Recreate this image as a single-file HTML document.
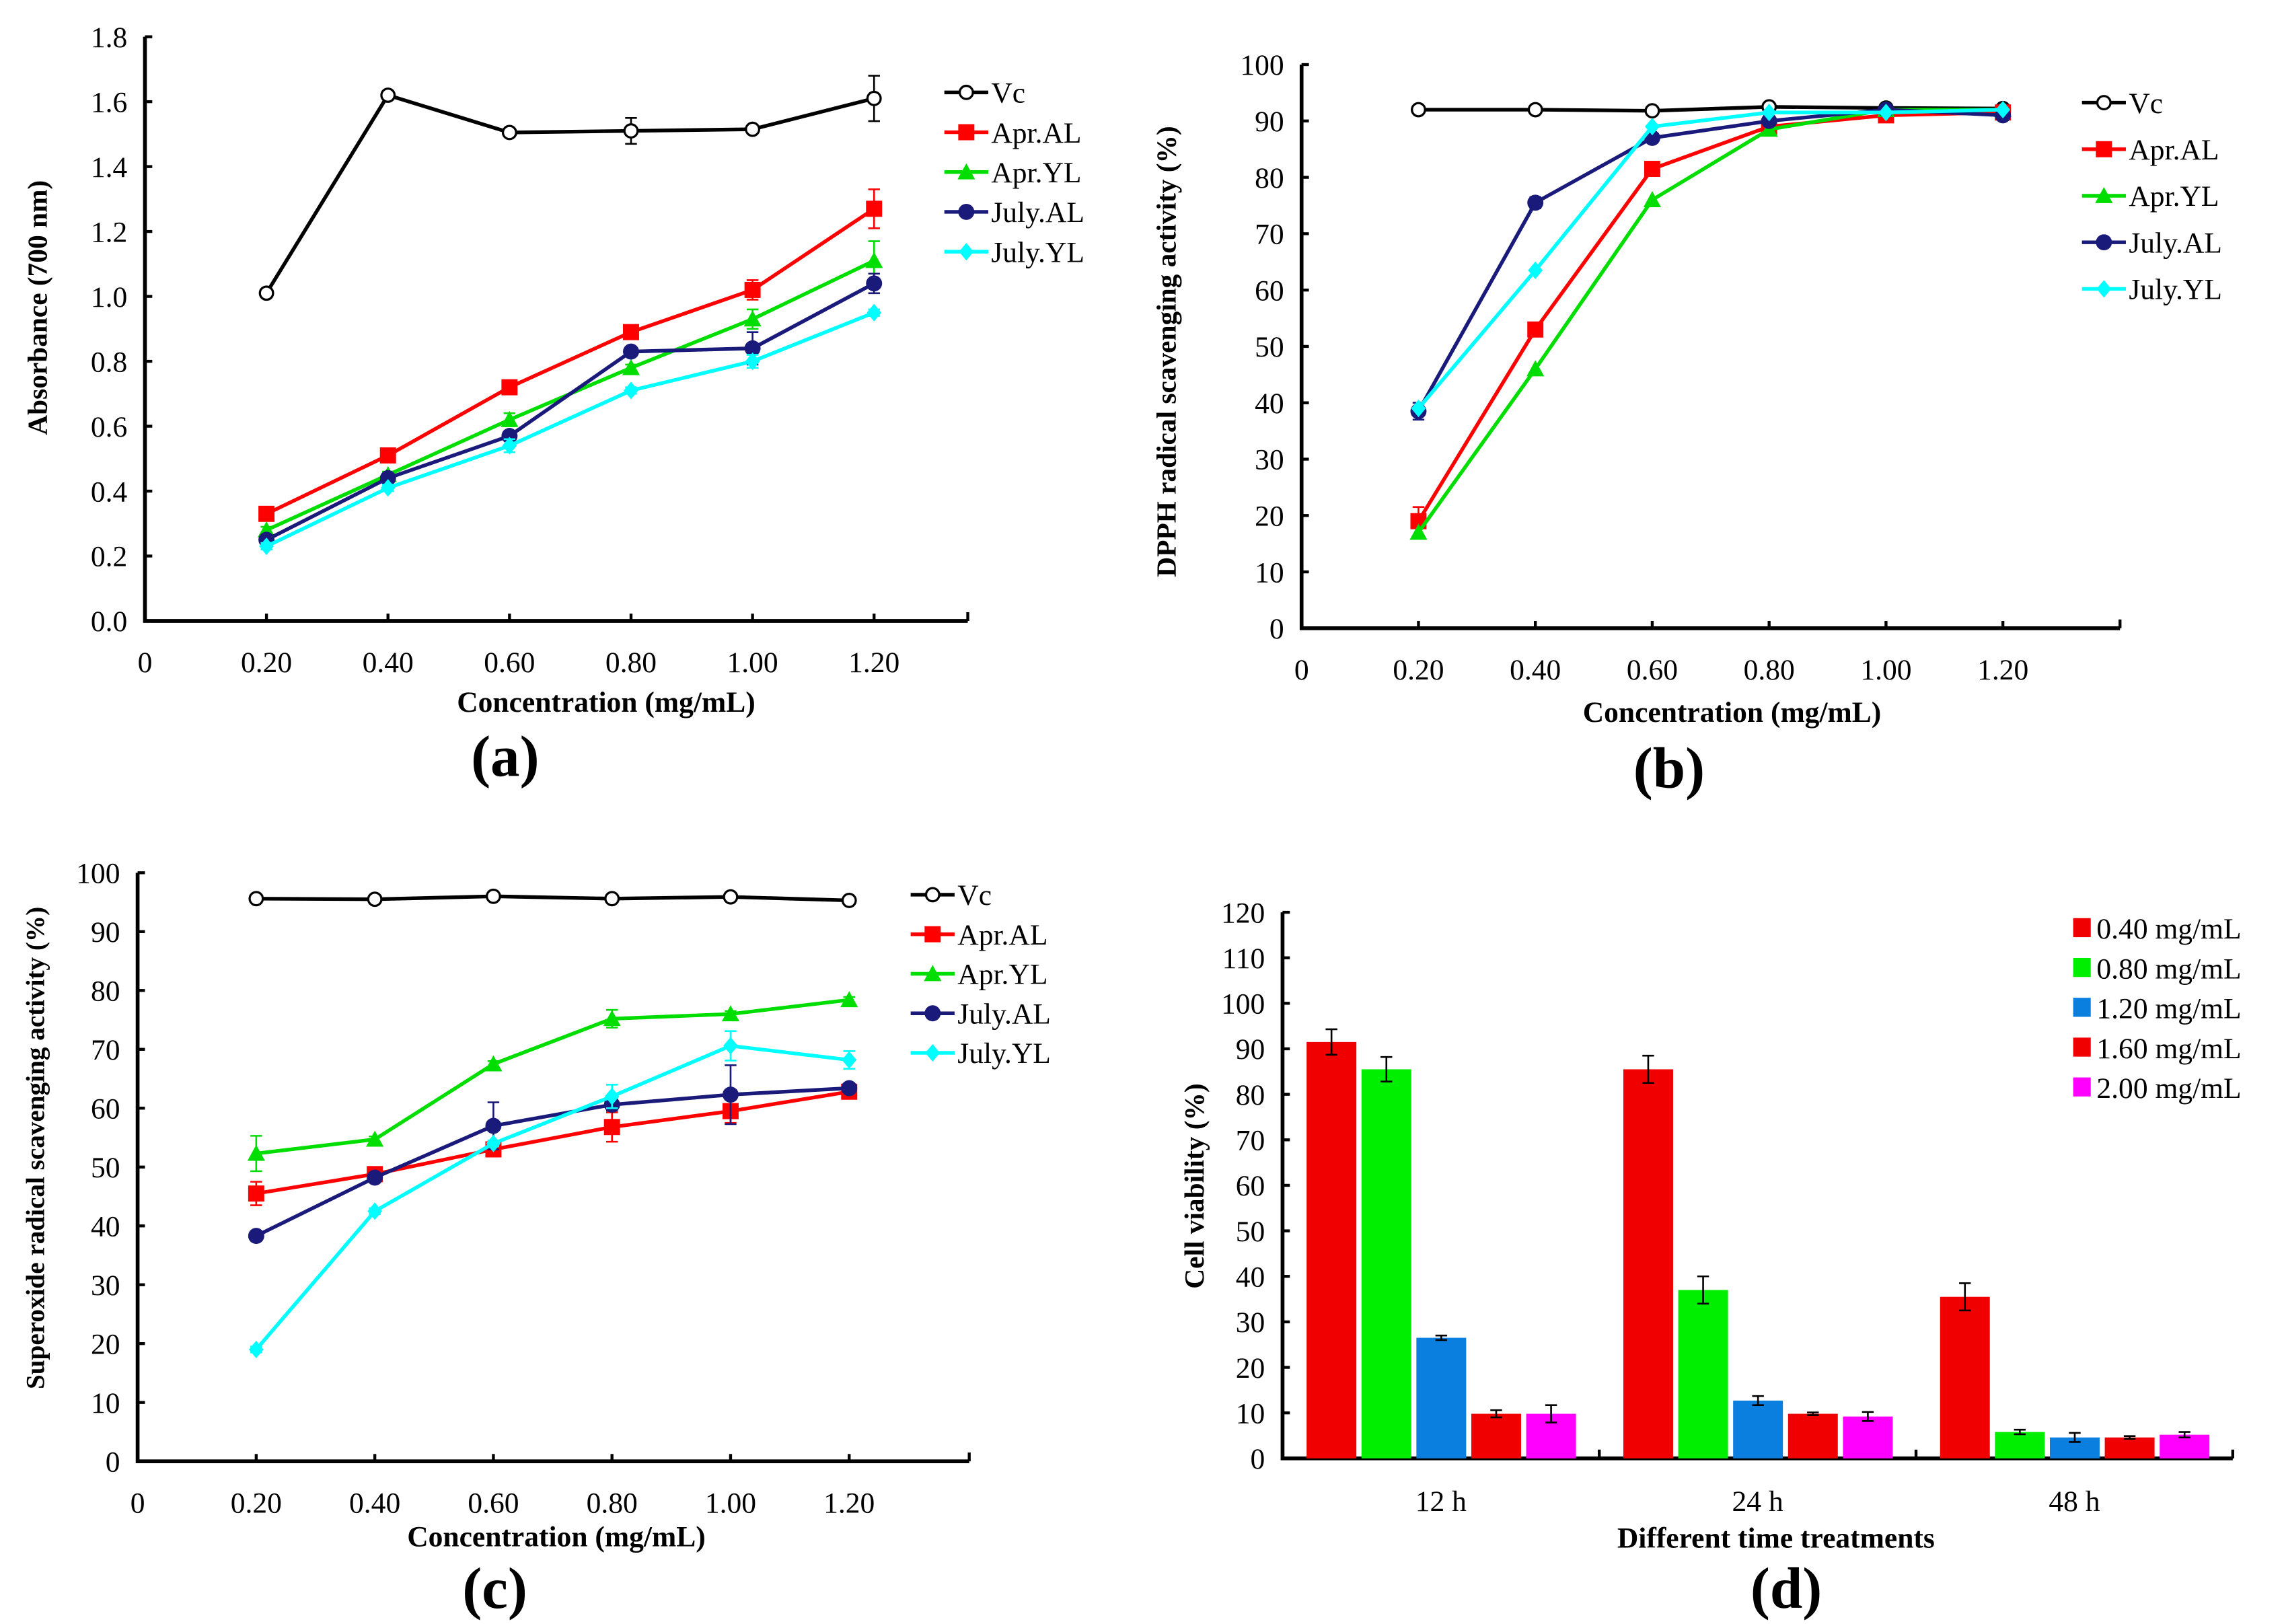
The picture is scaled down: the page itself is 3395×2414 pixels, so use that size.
<!DOCTYPE html>
<html><head><meta charset="utf-8"><style>
html,body{margin:0;padding:0;background:#fff;}
svg{display:block;font-family:"Liberation Serif",serif;}
</style></head><body>
<svg id="fig" xmlns="http://www.w3.org/2000/svg" width="3395" height="2414" viewBox="0 0 1560 1109">
<rect width="1560" height="1109" fill="#fff"/>
</svg>
<script>
const xCats = [0.20, 0.40, 0.60, 0.80, 1.00, 1.20];
const xTickLabels = ["0","0.20","0.40","0.60","0.80","1.00","1.20"];
const seriesNames = ["Vc","Apr.AL","Apr.YL","July.AL","July.YL"];
// panel a
const aVc = [1.01,1.62,1.505,1.51,1.515,1.61];
const aAprAL = [0.33,0.51,0.72,0.89,1.02,1.27];
const aAprYL = [0.28,0.45,0.62,0.78,0.93,1.11];
const aJulyAL = [0.25,0.44,0.57,0.83,0.84,1.04];
const aJulyYL = [0.23,0.41,0.54,0.71,0.80,0.95];
const aErrVc = [0.01,0.01,0.01,0.04,0.01,0.07];
const aErrAprAL = [0.02,0.01,0.01,0.01,0.03,0.06];
const aErrAprYL = [0.01,0.01,0.02,0.01,0.03,0.06];
const aErrJulyAL = [0.01,0.01,0.01,0.01,0.05,0.03];
const aErrJulyYL = [0.01,0.01,0.02,0.01,0.02,0.01];
const aYTicks = ["0.0","0.2","0.4","0.6","0.8","1.0","1.2","1.4","1.6","1.8"];
// panel b
const bVc = [92,92,91.8,92.5,92.3,92.2];
const bAprAL = [19,53,81.5,89,91,91.5];
const bAprYL = [17,46,76,88.5,92,92];
const bJulyAL = [38.5,75.5,87,90,92,91];
const bJulyYL = [39,63.5,89,91.5,91.5,92];
const bErrAprAL = [2.5,1,1,0.5,0.5,0.5];
const bErrJulyAL = [1.5,1,0.5,0.5,0.5,0.5];
const bYTicks = ["0","10","20","30","40","50","60","70","80","90","100"];
// panel c
const cVc = [95.6,95.5,96,95.6,95.9,95.3];
const cAprAL = [45.5,48.8,53,56.8,59.5,62.8];
const cAprYL = [52.3,54.7,67.5,75.2,76,78.4];
const cJulyAL = [38.3,48.2,57,60.6,62.3,63.4];
const cJulyYL = [19,42.5,54,62,70.6,68.2];
const cErrAprAL = [2,0.5,0.5,2.5,2,0.5];
const cErrAprYL = [3,0.5,0.5,1.5,0.5,0.5];
const cErrJulyAL = [0.5,0.5,4,1,5,0.5];
const cErrJulyYL = [0.5,0.5,0.5,2,2.5,1.5];
const cYTicks = ["0","10","20","30","40","50","60","70","80","90","100"];
// panel d
const dGroups = ["12 h","24 h","48 h"];
const dConc = ["0.40 mg/mL","0.80 mg/mL","1.20 mg/mL","1.60 mg/mL","2.00 mg/mL"];
const d12 = [91.5,85.5,26.5,9.8,9.8];
const d24 = [85.5,37,12.7,9.8,9.2];
const d48 = [35.5,5.8,4.6,4.6,5.2];
const dErr12 = [2.8,2.7,0.5,0.8,1.9];
const dErr24 = [3,3,1,0.3,1];
const dErr48 = [3,0.5,1,0.3,0.6];
const dYTicks = ["0","10","20","30","40","50","60","70","80","90","100","110","120"];

const NS = "http://www.w3.org/2000/svg";
const svg = document.getElementById('fig');
function el(tag, attrs, parent, text) {
  const e = document.createElementNS(NS, tag);
  for (const k in attrs) e.setAttribute(k, attrs[k]);
  if (text !== undefined) e.textContent = text;
  (parent || svg).appendChild(e);
  return e;
}
const colors = ["#000","#ff0000","#00dd00","#1a1a7a","#00ffff"];
const markers = ["circle","square","triangle","dot","diamond"];

function marker(g, type, x, y, c) {
  let m;
  if (type === "circle") m = el('circle', {cx:x, cy:y, r:4.5, fill:'#fff', stroke:'#000', 'stroke-width':1.5}, g);
  else if (type === "square") m = el('rect', {x:x-5.5, y:y-5.5, width:11, height:11, fill:c}, g);
  else if (type === "triangle") m = el('polygon', {points:`${x},${y-6} ${x-6},${y+5} ${x+6},${y+5}`, fill:c}, g);
  else if (type === "dot") m = el('circle', {cx:x, cy:y, r:5.5, fill:c}, g);
  else m = el('polygon', {points:`${x},${y-6} ${x+5},${y} ${x},${y+6} ${x-5},${y}`, fill:c}, g);
  
  
}

function linePanel(cfg) {
  const g = el('g', {});
  
  
  const xs = v => cfg.x0 + (cfg.x12 - cfg.x0) * v / 1.2;
  const ys = v => cfg.y0 - (cfg.y0 - cfg.yTop) * v / cfg.yMax;
  const ax = el('path', {d:`M${cfg.x0},${cfg.yTop} V${cfg.y0} H${cfg.xEnd}`, fill:'none', stroke:'#000', 'stroke-width':2.6}, g);
   
  cfg.yTicks.forEach((t, i) => {
    const v = i * cfg.yMax / (cfg.yTicks.length - 1);
    const y = ys(v);
    el('line', {x1:cfg.x0, x2:cfg.x0+5, y1:y, y2:y, stroke:'#000', 'stroke-width':2}, g);
    const tx = el('text', {x:cfg.x0-12, y:y+7, 'text-anchor':'end', 'font-size':20}, g, t);
     
  });
  xTickLabels.forEach((t, i) => {
    const x = i === 0 ? cfg.x0 : xs(xCats[i-1]);
    if (i > 0) el('line', {x1:x, x2:x, y1:cfg.y0, y2:cfg.y0-5, stroke:'#000', 'stroke-width':2}, g);
    const tx = el('text', {x:x, y:cfg.y0+35, 'text-anchor':'middle', 'font-size':20}, g, t);
     
  });
  el('line', {x1:cfg.xEnd, x2:cfg.xEnd, y1:cfg.y0, y2:cfg.y0-6, stroke:'#000', 'stroke-width':2}, g);
  cfg.series.forEach((s, si) => {
    const pts = s.map((v, i) => [xs(xCats[i]), ys(v)]);
    const pl = el('polyline', {points: pts.map(p => p.join(',')).join(' '), fill:'none', stroke:colors[si], 'stroke-width':2.5}, g);
     
    const err = cfg.errs[si];
    if (err) s.forEach((v, i) => {
      const x = xs(xCats[i]), y1 = ys(v + err[i]), y2 = ys(v - err[i]);
      el('path', {d:`M${x},${y1} V${y2} M${x-4},${y1} H${x+4} M${x-4},${y2} H${x+4}`, stroke:colors[si], 'stroke-width':1.2, fill:'none'}, g);
    });
    pts.forEach(p => marker(g, markers[si], p[0], p[1], colors[si]));
  });
  seriesNames.forEach((n, i) => {
    const y = cfg.legY + i * cfg.legDy;
    const lg = el('g', {}, g);
     
    el('line', {x1:cfg.legX, x2:cfg.legX+30, y1:y, y2:y, stroke:colors[i], 'stroke-width':2.5}, lg);
    marker(lg, markers[i], cfg.legX+15, y, colors[i]);
    el('text', {x:cfg.legX+32, y:y+7, 'font-size':20}, lg, n);
  });
  const yl = el('text', {x:0, y:0, transform:`translate(${cfg.yLabX},${cfg.yLabY}) rotate(-90)`, 'text-anchor':'middle', 'font-size':cfg.yLabSize || 19, 'font-weight':'bold'}, g, cfg.yLabel);
   
  const xl = el('text', {x:cfg.xLabX, y:cfg.xLabY, 'text-anchor':'middle', 'font-size':20, 'font-weight':'bold'}, g, 'Concentration (mg/mL)');
   
  const pl2 = el('text', {x:cfg.pX, y:cfg.pY, 'text-anchor':'middle', 'font-size':40, 'font-weight':'bold'}, g, cfg.panel);
   
}

linePanel({name:'panel-a-chart', x0:99, x12:597, xEnd:661, y0:424, yTop:25, yMax:1.8, yTicks:aYTicks,
  series:[aVc,aAprAL,aAprYL,aJulyAL,aJulyYL], errs:[aErrVc,aErrAprAL,aErrAprYL,aErrJulyAL,aErrJulyYL],
  legX:645, legY:63, legDy:27.2, yLabel:'Absorbance (700 nm)', yLabX:32, yLabY:210, xLabX:414, xLabY:486, panel:'(a)', pX:345, pY:530});
linePanel({name:'panel-b-chart', x0:889, x12:1368, xEnd:1448, y0:429, yTop:44, yMax:100, yTicks:bYTicks,
  series:[bVc,bAprAL,bAprYL,bJulyAL,bJulyYL], errs:[null,bErrAprAL,null,bErrJulyAL,null],
  legX:1422, legY:70, legDy:31.8, yLabel:'DPPH radical scavenging activity (%)', yLabX:803, yLabY:240, xLabX:1183, xLabY:493, panel:'(b)', pX:1140, pY:538});
linePanel({name:'panel-c-chart', x0:94, x12:580, xEnd:662, y0:998, yTop:596, yMax:100, yTicks:cYTicks,
  series:[cVc,cAprAL,cAprYL,cJulyAL,cJulyYL], errs:[null,cErrAprAL,cErrAprYL,cErrJulyAL,cErrJulyYL],
  legX:622, legY:611, legDy:27, yLabel:'Superoxide radical scavenging activity (%)', yLabSize:18, yLabX:30, yLabY:784, xLabX:380, xLabY:1056, panel:'(c)', pX:338, pY:1098});

(function(){
  const g = el('g', {});
   
  const x0 = 876, xEnd = 1525, y0 = 996, yTop = 623, yMax = 120;
  const ys = v => y0 - (y0 - yTop) * v / yMax;
  const barColors = ["#f00000","#00ee00","#0a7fe0","#f00000","#ff00ff"];
  const ax = el('path', {d:`M${x0},${yTop} V${y0} H${xEnd}`, fill:'none', stroke:'#000', 'stroke-width':2.6}, g);
   
  dYTicks.forEach((t, i) => {
    const y = ys(i * 10);
    el('line', {x1:x0, x2:x0+5, y1:y, y2:y, stroke:'#000', 'stroke-width':2}, g);
    const tx = el('text', {x:x0-12, y:y+7, 'text-anchor':'end', 'font-size':20}, g, t);
     
  });
  const groupW = (xEnd - x0) / dGroups.length;
  const data = [d12, d24, d48], errs = [dErr12, dErr24, dErr48];
  dGroups.forEach((gname, gi) => {
    const gx = x0 + gi * groupW;
    if (gi > 0) el('line', {x1:gx, x2:gx, y1:y0, y2:y0-6, stroke:'#000', 'stroke-width':2}, g);
    const cx = gx + groupW / 2;
    const tx = el('text', {x:cx, y:y0+36, 'text-anchor':'middle', 'font-size':20}, g, gname);
     
    data[gi].forEach((v, bi) => {
      const bx = cx - 2.5 * 37.5 + bi * 37.5 + 2;
      const b = el('rect', {x:bx, y:ys(v), width:34, height:y0 - ys(v), fill:barColors[bi]}, g);
       
      const mx = bx + 17, e1 = ys(v + errs[gi][bi]), e2 = ys(v - errs[gi][bi]);
      el('path', {d:`M${mx},${e1} V${e2} M${mx-4},${e1} H${mx+4} M${mx-4},${e2} H${mx+4}`, stroke:'#000', 'stroke-width':1.2, fill:'none'}, g);
    });
  });
  el('line', {x1:xEnd, x2:xEnd, y1:y0, y2:y0-6, stroke:'#000', 'stroke-width':2}, g);
  dConc.forEach((n, i) => {
    const y = 634 + i * 27.2;
    const lg = el('g', {}, g);
     
    el('rect', {x:1416, y:y-7, width:12, height:13, fill:barColors[i]}, lg);
    el('text', {x:1432, y:y+7, 'font-size':20}, lg, n);
  });
  const yl = el('text', {x:0, y:0, transform:`translate(822,810) rotate(-90)`, 'text-anchor':'middle', 'font-size':19, 'font-weight':'bold'}, g, 'Cell viability (%)');
   
  const xl = el('text', {x:1213, y:1057, 'text-anchor':'middle', 'font-size':20, 'font-weight':'bold'}, g, 'Different time treatments');
   
  const pl = el('text', {x:1220, y:1098, 'text-anchor':'middle', 'font-size':40, 'font-weight':'bold'}, g, '(d)');
   
})();
</script>
</body></html>
